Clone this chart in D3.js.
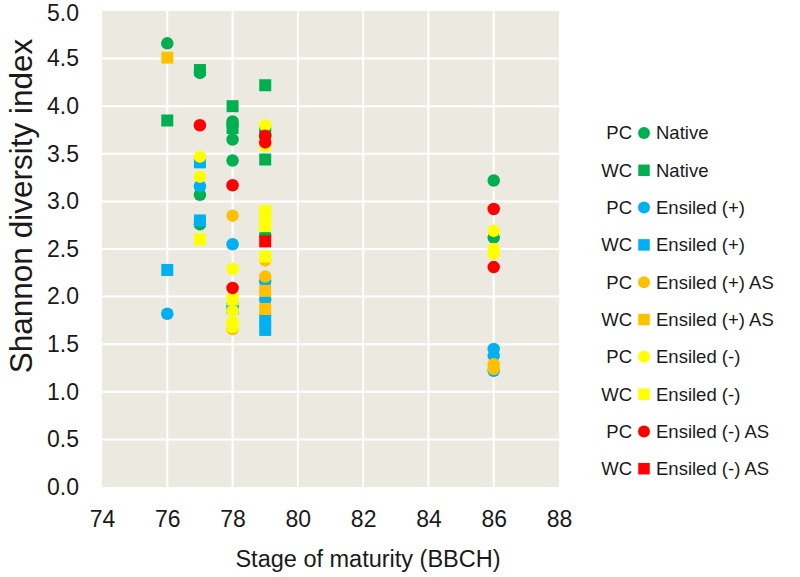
<!DOCTYPE html>
<html>
<head>
<meta charset="utf-8">
<script src="https://d3js.org/d3.v7.min.js"></script>
<style>
  body { margin: 0; background: #ffffff; }
  svg text { font-family: "Liberation Sans", Arial, sans-serif; fill: #1a1a1a; }
</style>
</head>
<body>
<div class="scatterChart"></div>
<script>
//Data: [stage of maturity (BBCH), Shannon diversity index] per series
const pcNative = [[76, 4.66], [77, 4.35], [77, 3.07], [77, 2.76], [78, 3.84], [78, 3.80], [78, 3.65], [78, 3.43], [79, 3.70], [79, 2.65], [86, 3.22], [86, 2.62]];
const wcNative = [[76, 3.85], [77, 4.38], [78, 4.00], [78, 3.77], [79, 4.22], [79, 3.72], [79, 3.44]];
const pcEnsiledPlus = [[76, 1.82], [77, 3.16], [78, 2.55], [78, 1.90], [79, 2.16], [79, 1.97], [86, 1.45], [86, 1.38], [86, 1.22]];
const wcEnsiledPlus = [[76, 2.28], [77, 3.41], [77, 2.80], [78, 1.88], [79, 1.76], [79, 1.65]];
const pcEnsiledPlusAS = [[78, 2.85], [78, 1.66], [79, 2.38], [79, 2.21], [86, 1.29], [86, 1.24]];
const wcEnsiledPlusAS = [[76, 4.51], [79, 2.06], [79, 1.87]];
const pcEnsiledMinus = [[77, 3.47], [77, 3.26], [78, 2.29], [78, 1.85], [78, 1.73], [78, 1.68], [79, 3.80], [79, 3.58], [86, 2.69], [86, 2.50], [86, 2.45]];
const wcEnsiledMinus = [[77, 2.60], [78, 1.97], [78, 1.70], [79, 2.90], [79, 2.82], [79, 2.74], [79, 2.42]];
const pcEnsiledMinusAS = [[77, 3.80], [78, 3.17], [78, 2.09], [79, 3.69], [79, 3.62], [86, 2.92], [86, 2.31]];
const wcEnsiledMinusAS = [[79, 2.58]];

//Legend texts
const groupLabels = ["PC", "WC", "PC", "WC", "PC", "WC", "PC", "WC", "PC", "WC"];
const seriesLabels = ["Native", "Native", "Ensiled (+)", "Ensiled (+)", "Ensiled (+) AS", "Ensiled (+) AS", "Ensiled (-)", "Ensiled (-)", "Ensiled (-) AS", "Ensiled (-) AS"];

//Tick values
const xTicks = [74, 76, 78, 80, 82, 84, 86, 88];
const yTicks = [0, 0.5, 1, 1.5, 2, 2.5, 3, 3.5, 4, 4.5, 5];

const allSeries = [pcNative, wcNative, pcEnsiledPlus, wcEnsiledPlus, pcEnsiledPlusAS, wcEnsiledPlusAS, pcEnsiledMinus, wcEnsiledMinus, pcEnsiledMinusAS, wcEnsiledMinusAS];

//Styles
const colors = ["#00B050", "#00B050", "#00B0F0", "#00B0F0", "#FFC000", "#FFC000", "#FFFF00", "#FFFF00", "#FF0000", "#FF0000"];
const shapes = ["circle", "square", "circle", "square", "circle", "square", "circle", "square", "circle", "square"];

//Size of the svg and the plot area
const width = 800;
const height = 577;
const plot = { left: 102, right: 559, top: 11, bottom: 487 };

const svg = d3.select(".scatterChart").append("svg")
  .attr("width", width)
  .attr("height", height);

//Scales setup
const xscale = d3.scaleLinear().domain([74, 88]).range([plot.left, plot.right]);
const yscale = d3.scaleLinear().domain([0, 5]).range([plot.bottom, plot.top]);

//Plot background
svg.append("rect")
  .attr("x", plot.left)
  .attr("y", plot.top)
  .attr("width", plot.right - plot.left)
  .attr("height", plot.bottom - plot.top)
  .attr("fill", "#ECEAE0");

//Gridlines (white), not on the borders
const grid = svg.append("g").attr("class", "grid");
grid.selectAll(".hgrid")
  .data(yTicks.slice(1, -1))
  .join("line")
    .attr("class", "hgrid")
    .attr("x1", plot.left)
    .attr("x2", plot.right)
    .attr("y1", (d) => yscale(d))
    .attr("y2", (d) => yscale(d));
grid.selectAll(".vgrid")
  .data(xTicks.slice(1, -1))
  .join("line")
    .attr("class", "vgrid")
    .attr("x1", (d) => xscale(d))
    .attr("x2", (d) => xscale(d))
    .attr("y1", plot.top)
    .attr("y2", plot.bottom);
grid.selectAll("line")
  .attr("stroke", "#ffffff")
  .attr("stroke-width", 2);

//Axis setup
const yaxis = d3.axisLeft(yscale).tickValues(yTicks).tickFormat(d3.format(".1f")).tickSize(0).tickPadding(23);
const xaxis = d3.axisBottom(xscale).tickValues(xTicks).tickFormat(d3.format("d")).tickSize(0).tickPadding(24);
const g_yaxis = svg.append("g")
  .attr("transform", `translate(${plot.left},0)`)
  .call(yaxis);
const g_xaxis = svg.append("g")
  .attr("transform", `translate(0,${plot.bottom})`)
  .call(xaxis);

[g_yaxis, g_xaxis].forEach((g) => {
  g.select(".domain").remove();
  g.selectAll("text")
    .attr("font-size", 23)
    .attr("fill", "#1a1a1a")
    .style("font-family", "'Liberation Sans', Arial, sans-serif");
});
//keep the top label inside the picture
g_yaxis.selectAll(".tick text").filter((d) => d === 5).attr("dy", "0.42em");

//Axis titles
svg.append("text")
  .attr("x", 368)
  .attr("y", 567)
  .attr("text-anchor", "middle")
  .attr("font-size", 23.5)
  .text("Stage of maturity (BBCH)");

svg.append("text")
  .attr("transform", `translate(32,206) rotate(-90)`)
  .attr("text-anchor", "middle")
  .attr("font-size", 31.5)
  .text("Shannon diversity index");

//Draws one marker (circle or square) into a selection
function drawMarkers(sel, shape, color, size) {
  if (shape === "circle") {
    sel.append("circle")
      .attr("r", size / 2)
      .attr("fill", color);
  } else {
    sel.append("rect")
      .attr("x", -size / 2)
      .attr("y", -size / 2)
      .attr("width", size)
      .attr("height", size)
      .attr("fill", color);
  }
}

//Points, series by series (later series lie on top)
const markerSize = 12.5;
allSeries.forEach((data, i) => {
  const pts = svg.append("g").attr("class", "series-" + i)
    .selectAll("g")
    .data(data)
    .join("g")
      .attr("transform", (d) => `translate(${xscale(d[0])},${yscale(d[1])})`);
  drawMarkers(pts, shapes[i], colors[i], shapes[i] === "circle" ? markerSize : markerSize - 0.5);
});

//Legend
const legendTop = 133;
const legendStep = 37.3;
const legend = svg.append("g").attr("class", "legend")
  .selectAll("g")
  .data(seriesLabels)
  .join("g")
    .attr("transform", (d, i) => `translate(644,${legendTop + i * legendStep})`);

legend.append("text")
  .attr("x", -12)
  .attr("dy", "0.35em")
  .attr("text-anchor", "end")
  .attr("font-size", 18.5)
  .text((d, i) => groupLabels[i]);

legend.each(function(d, i) {
  drawMarkers(d3.select(this), shapes[i], colors[i], i % 2 === 0 ? 12 : 11.5);
});

legend.append("text")
  .attr("x", 12)
  .attr("dy", "0.35em")
  .attr("font-size", 18.5)
  .text((d) => d);
</script>
</body>
</html>
